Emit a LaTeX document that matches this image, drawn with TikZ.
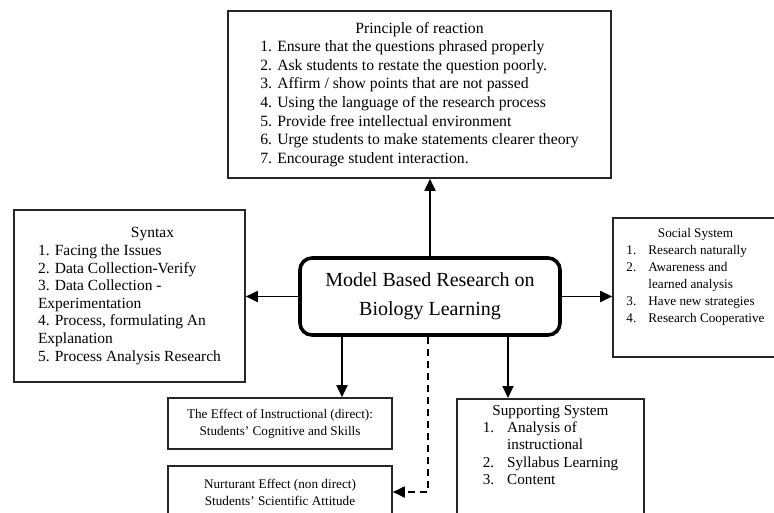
\documentclass[tikz,border=0pt]{standalone}
\usepackage{fontspec}
\setmainfont{Liberation Serif}
\usetikzlibrary{arrows.meta}
\usetikzlibrary{positioning}

\tikzset{
    kasten/.style={draw=black!85, line width=1.6pt, rectangle, inner sep=0pt, align=center},
    modell/.style={draw=black, line width=3.6pt, rounded corners=12pt, minimum width=260, minimum height=77, align=center, font=\fontsize{20}{29}\selectfont},
    pfeil/.style={-{Triangle[length=12pt,width=11pt]}, line width=1.8pt},
}

\begin{document}
\begin{tikzpicture}[x=1pt,y=-1pt]
    \useasboundingbox (0,0) rectangle (774,512);

    % Mittleres Modell
    \node[modell] (modell) at (430,296.5) {Model Based Research on\\Biology Learning};

    % Oberer Kasten
    \node[kasten, minimum width=383, minimum height=167, font=\fontsize{15.7}{18.6}\selectfont] (prinzip) at (419.5,94.5)
        {\begin{tabular}{@{}l@{}}
            \multicolumn{1}{c}{Principle of reaction}\\
            1. Ensure that the questions phrased properly\\
            2. Ask students to restate the question poorly.\\
            3. Affirm / show points that are not passed\\
            4. Using the language of the research process\\
            5. Provide free intellectual environment\\
            6. Urge students to make statements clearer theory\\
            7. Encourage student interaction.
        \end{tabular}};

    % Linker Kasten
    \node[kasten, minimum width=231, minimum height=172, font=\fontsize{15.5}{17.6}\selectfont] (syntax) at (129.5,296)
        {\begin{tabular}{@{}l@{}}
            \multicolumn{1}{c}{\hspace{46pt}Syntax}\\
            1. Facing the Issues\\
            2. Data Collection-Verify\\
            3. Data Collection -\\
            Experimentation\\
            4. Process, formulating An\\
            Explanation\\
            5. Process Analysis Research
        \end{tabular}};

    % Rechter Kasten
    \node[kasten, minimum width=165, minimum height=139, font=\fontsize{13.2}{17}\selectfont] (sozial) at (695.5,287.5)
        {\begin{tabular}{@{}l@{\hspace{12pt}}l@{}}
            \multicolumn{2}{c}{Social System}\\
            1. & Research naturally\\
            2. & Awareness and\\
               & learned analysis\\
            3. & Have new strategies\\
            4. & Research Cooperative\\[21pt]
        \end{tabular}};

    % Untere Kasten
    \node[kasten, minimum width=224, minimum height=51, font=\fontsize{13.2}{17}\selectfont] (wirkung) at (280,423.5)
        {The Effect of Instructional (direct):\\Students' Cognitive and Skills};
    \node[kasten, minimum width=224, minimum height=52, font=\fontsize{13.2}{17}\selectfont] (begleit) at (280,492)
        {Nurturant Effect (non direct)\\Students' Scientific Attitude};
    \node[kasten, anchor=north, minimum width=187, minimum height=135, font=\fontsize{15.2}{17.3}\selectfont] (stuetz) at (550.5,398)
        {\begin{tabular}{@{}l@{\hspace{13pt}}l@{}}
            \multicolumn{2}{c}{Supporting System}\\
            1. & Analysis of\\
               & instructional\\
            2. & Syllabus Learning\\
            3. & Content\\[40pt]
        \end{tabular}};

    % Pfeile
    \draw[pfeil] (modell.north) -- (modell.north |- prinzip.south);
    \draw[pfeil] (modell.west) -- (modell.west -| syntax.east);
    \draw[pfeil] (modell.east) -- (modell.east -| sozial.west);
    \draw[pfeil] ([xshift=-88pt]modell.south) -- ([xshift=-88pt]modell.south |- wirkung.north);
    \draw[pfeil] ([xshift=78pt]modell.south) -- ([xshift=78pt]modell.south |- stuetz.north);
    \draw[pfeil, dash pattern=on 7pt off 5pt] ([xshift=-2pt]modell.south) |- (begleit.east);
\end{tikzpicture}
\end{document}
